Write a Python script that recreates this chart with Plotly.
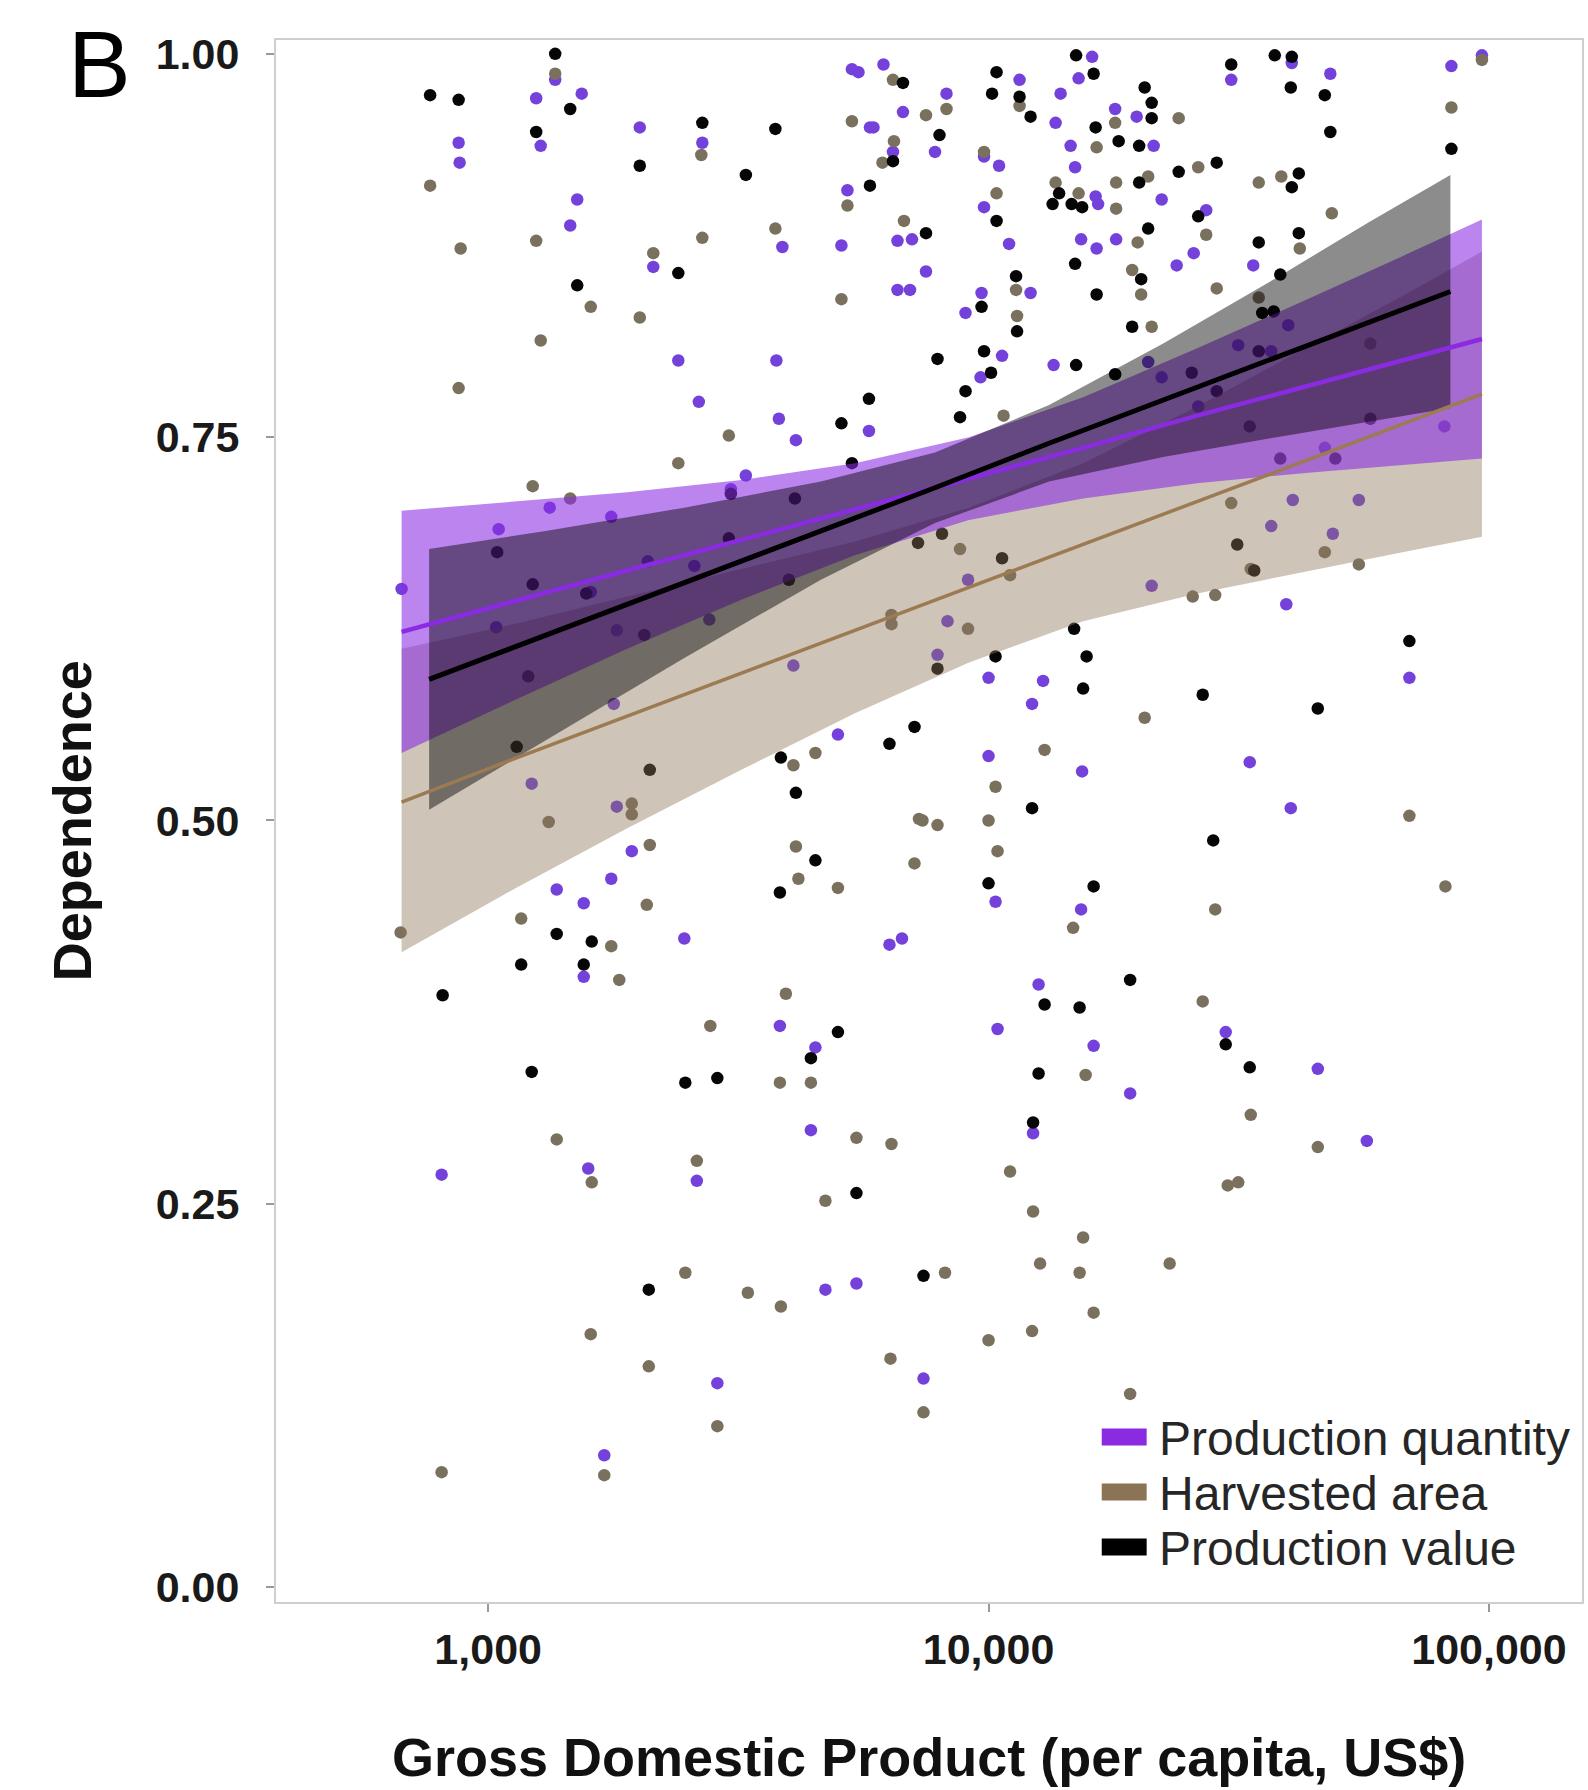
import numpy as np
import plotly.graph_objects as go

# ---------------- data ----------------
# x values are read on the log axis as log10(GDP per capita, US$)
pq_log_gdp = [2.827, 2.907, 2.941, 2.943, 3.021, 3.016, 3.087, 3.096, 3.105, 3.134, 3.123, 3.137, 3.164, 3.178, 3.187,
              3.191, 3.191, 3.200, 3.205, 3.232, 3.246, 3.257, 3.287, 3.303, 3.330, 3.380, 3.392, 3.417, 3.421, 3.428,
              3.458, 3.485, 3.515, 3.576, 3.581, 3.583, 3.588, 3.610, 3.615, 3.645, 3.654, 3.674, 3.699, 3.706, 3.718,
              3.727, 3.736, 3.761, 3.763, 3.790, 3.802, 3.827, 3.809, 3.818, 3.847, 3.818, 3.843, 3.829, 3.870, 3.875,
              3.893, 3.770, 3.740, 3.916, 3.954, 3.986, 3.991, 4.021, 3.991, 4.041, 4.062, 4.084, 4.134, 4.144, 4.164,
              4.173, 4.180, 4.207, 4.185, 4.216, 4.255, 4.214, 4.219, 4.253, 4.296, 4.330, 4.346, 4.376, 4.410, 4.435,
              4.485, 4.529, 4.606, 4.683, 4.925, 4.986, 4.027, 4.130, 3.984, 4.419, 4.499, 4.599, 4.319, 4.346, 4.565,
              4.672, 4.740, 4.688, 4.608, 4.565, 4.911, 3.959, 3.918, 3.898, 4.326, 4.595, 4.000, 4.109, 4.087, 4.841,
              4.000, 4.187, 4.522, 4.604, 4.014, 4.185, 4.100, 4.018, 4.210, 4.474, 4.658, 4.283, 4.089, 4.756, 3.251,
              3.257, 3.319, 3.246, 3.442, 3.412]
pq_dependence = [0.651, 0.269, 0.942, 0.929, 0.690, 0.626, 0.524, 0.971, 0.940, 0.983, 0.704, 0.455, 0.888, 0.905, 0.974,
                 0.446, 0.398, 0.273, 0.649, 0.086, 0.462, 0.509, 0.480, 0.952, 0.861, 0.800, 0.423, 0.265, 0.773, 0.942,
                 0.133, 0.716, 0.725, 0.800, 0.762, 0.366, 0.874, 0.601, 0.748, 0.298, 0.352, 0.194, 0.556, 0.875, 0.911,
                 0.990, 0.198, 0.754, 0.952, 0.993, 0.419, 0.423, 0.936, 0.878, 0.879, 0.846, 0.846, 0.962, 0.136, 0.858,
                 0.936, 0.952, 0.988, 0.974, 0.831, 0.844, 0.933, 0.927, 0.900, 0.876, 0.983, 0.844, 0.955, 0.974, 0.940,
                 0.926, 0.984, 0.998, 0.879, 0.873, 0.879, 0.907, 0.902, 0.964, 0.959, 0.940, 0.905, 0.862, 0.870, 0.898,
                 0.983, 0.862, 0.994, 0.987, 0.992, 0.999, 0.803, 0.797, 0.789, 0.770, 0.810, 0.823, 0.799, 0.789, 0.806,
                 0.743, 0.709, 0.687, 0.709, 0.692, 0.757, 0.657, 0.630, 0.608, 0.653, 0.641, 0.593, 0.591, 0.576, 0.593,
                 0.542, 0.532, 0.538, 0.508, 0.447, 0.442, 0.393, 0.364, 0.353, 0.362, 0.338, 0.322, 0.296, 0.291, 0.576,
                 0.624, 0.669, 0.698, 0.631, 0.666]

ha_log_gdp = [2.825, 2.884, 2.907, 2.945, 2.941, 3.089, 3.096, 3.105, 3.134, 3.164, 3.121, 3.137, 3.066, 3.205, 3.207,
              3.205, 3.232, 3.246, 3.262, 3.287, 3.287, 3.303, 3.317, 3.321, 3.323, 3.330, 3.380, 3.394, 3.417, 3.426,
              3.428, 3.444, 3.458, 3.481, 3.519, 3.574, 3.585, 3.583, 3.595, 3.610, 3.615, 3.620, 3.645, 3.654, 3.674,
              3.699, 3.706, 3.718, 3.727, 3.736, 3.788, 3.806, 3.804, 3.809, 3.811, 3.831, 3.852, 3.861, 3.870, 3.875,
              3.916, 3.991, 4.016, 4.030, 4.055, 4.057, 4.062, 4.134, 4.180, 4.216, 4.253, 4.255, 4.255, 4.298, 4.305,
              4.287, 4.319, 4.326, 4.380, 4.419, 4.435, 4.456, 4.540, 4.540, 4.585, 4.622, 4.686, 4.925, 4.763, 3.943,
              3.959, 3.806, 3.806, 4.043, 4.408, 4.453, 4.524, 4.740, 4.672, 4.312, 4.112, 4.014, 4.841, 3.898, 3.868,
              4.000, 4.018, 4.453, 4.169, 4.913, 4.428, 4.194, 4.043, 4.524, 4.658, 4.478, 4.499, 4.089, 4.189, 4.103,
              4.182, 4.362, 3.913, 4.210, 4.000, 4.087, 4.283, 4.485, 4.986]
ha_dependence = [0.427, 0.914, 0.075, 0.873, 0.782, 0.718, 0.878, 0.813, 0.987, 0.710, 0.499, 0.292, 0.436, 0.835, 0.264,
                 0.165, 0.073, 0.418, 0.396, 0.511, 0.504, 0.828, 0.445, 0.144, 0.484, 0.870, 0.733, 0.205, 0.278, 0.934,
                 0.880, 0.366, 0.105, 0.751, 0.192, 0.886, 0.183, 0.329, 0.387, 0.536, 0.483, 0.462, 0.329, 0.544, 0.252,
                 0.456, 0.840, 0.901, 0.956, 0.293, 0.929, 0.289, 0.149, 0.983, 0.943, 0.891, 0.472, 0.501, 0.114, 0.960,
                 0.964, 0.936, 0.909, 0.764, 0.846, 0.829, 0.966, 0.916, 0.909, 0.939, 0.955, 0.916, 0.899, 0.877, 0.843,
                 0.859, 0.920, 0.822, 0.958, 0.926, 0.882, 0.847, 0.916, 0.841, 0.920, 0.873, 0.896, 0.965, 0.811, 0.677,
                 0.625, 0.634, 0.628, 0.660, 0.646, 0.647, 0.664, 0.667, 0.675, 0.567, 0.546, 0.522, 0.503, 0.497, 0.500,
                 0.500, 0.480, 0.442, 0.430, 0.457, 0.382, 0.334, 0.271, 0.308, 0.287, 0.262, 0.264, 0.245, 0.228, 0.211,
                 0.205, 0.211, 0.205, 0.179, 0.161, 0.167, 0.126, 0.707, 0.996]

pv_log_gdp = [2.884, 2.909, 2.941, 3.018, 3.087, 3.096, 3.089, 3.134, 3.137, 3.164, 3.178, 3.066, 3.191, 3.207, 3.303,
              3.321, 3.380, 3.394, 3.458, 3.428, 3.515, 3.574, 3.613, 3.585, 3.615, 3.645, 3.699, 3.706, 3.727, 3.736,
              3.761, 3.763, 3.802, 3.829, 3.809, 3.852, 3.870, 3.875, 3.898, 3.902, 3.943, 3.954, 3.991, 4.005, 4.007,
              4.016, 4.016, 4.055, 4.057, 4.062, 4.084, 3.986, 4.141, 4.128, 4.166, 4.187, 4.173, 4.175, 4.210, 4.175,
              4.214, 4.216, 4.253, 4.260, 4.301, 4.301, 4.305, 4.312, 4.319, 4.326, 4.326, 4.287, 4.380, 4.419, 4.456,
              4.540, 4.547, 4.570, 4.572, 4.583, 4.604, 4.606, 4.620, 4.620, 4.672, 4.683, 4.485, 4.606, 4.925, 3.898,
              4.014, 4.171, 4.196, 4.189, 4.428, 4.658, 4.841, 4.087, 4.449, 4.000, 4.210, 4.283, 4.112, 4.182, 4.474,
              4.100, 4.522, 4.089, 3.654, 3.583, 3.323, 3.080, 3.057, 3.485, 3.601, 3.859, 3.907, 4.406, 4.456, 4.540,
              4.497, 4.531, 4.027, 3.196, 3.312, 3.481, 4.763, 4.693, 4.583, 4.522]
pv_dependence = [0.973, 0.386, 0.970, 0.675, 0.336, 0.949, 0.654, 1.000, 0.426, 0.964, 0.849, 0.406, 0.406, 0.421, 0.927,
                 0.194, 0.857, 0.329, 0.332, 0.955, 0.921, 0.951, 0.710, 0.541, 0.518, 0.345, 0.362, 0.759, 0.733, 0.257,
                 0.775, 0.914, 0.550, 0.981, 0.930, 0.561, 0.203, 0.883, 0.801, 0.947, 0.763, 0.780, 0.806, 0.792, 0.974,
                 0.988, 0.891, 0.855, 0.819, 0.972, 0.959, 0.835, 0.909, 0.902, 0.902, 0.900, 0.863, 0.999, 0.987, 0.797,
                 0.952, 0.843, 0.791, 0.943, 0.940, 0.916, 0.853, 0.978, 0.886, 0.968, 0.958, 0.822, 0.923, 0.894, 0.929,
                 0.877, 0.831, 0.832, 0.999, 0.856, 0.978, 0.913, 0.922, 0.883, 0.973, 0.949, 0.993, 0.998, 0.938, 0.599,
                 0.607, 0.625, 0.607, 0.586, 0.582, 0.573, 0.617, 0.508, 0.487, 0.459, 0.457, 0.396, 0.380, 0.378, 0.354,
                 0.335, 0.339, 0.303, 0.474, 0.453, 0.533, 0.594, 0.548, 0.713, 0.657, 0.681, 0.687, 0.792, 0.780, 0.806,
                 0.680, 0.663, 0.671, 0.648, 0.621, 0.684, 0.762, 0.736, 0.736, 0.757]

# fitted lines with confidence bands
pq_fit_log_gdp = [2.827, 3.050, 3.278, 3.506, 3.733, 3.961, 4.189, 4.417, 4.645, 4.827, 4.986]
pq_fit = [0.623, 0.643, 0.663, 0.683, 0.703, 0.723, 0.743, 0.764, 0.784, 0.800, 0.814]
pq_upper = [0.702, 0.708, 0.714, 0.722, 0.733, 0.750, 0.776, 0.808, 0.841, 0.868, 0.892]
pq_lower = [0.544, 0.578, 0.612, 0.644, 0.673, 0.696, 0.710, 0.720, 0.727, 0.732, 0.736]

ha_fit_log_gdp = [2.827, 3.050, 3.278, 3.506, 3.733, 3.961, 4.189, 4.417, 4.645, 4.827, 4.986]
ha_fit = [0.512, 0.540, 0.568, 0.596, 0.624, 0.652, 0.680, 0.708, 0.736, 0.758, 0.778]
ha_upper = [0.612, 0.628, 0.646, 0.664, 0.682, 0.704, 0.733, 0.770, 0.810, 0.842, 0.871]
ha_lower = [0.414, 0.455, 0.495, 0.533, 0.570, 0.603, 0.630, 0.648, 0.663, 0.675, 0.685]

pv_fit_log_gdp = [2.882, 3.118, 3.392, 3.665, 3.893, 4.121, 4.349, 4.576, 4.759, 4.923]
pv_fit = [0.592, 0.621, 0.655, 0.689, 0.717, 0.746, 0.774, 0.802, 0.825, 0.845]
pv_upper = [0.677, 0.689, 0.704, 0.721, 0.740, 0.771, 0.811, 0.854, 0.890, 0.921]
pv_lower = [0.507, 0.553, 0.606, 0.657, 0.694, 0.721, 0.737, 0.750, 0.760, 0.769]

series_names = ["Production quantity", "Harvested area", "Production value"]
x_tick_values = [1000, 10000, 100000]
x_tick_labels = ["1,000", "10,000", "100,000"]
y_tick_values = [0.0, 0.25, 0.5, 0.75, 1.0]
y_tick_labels = ["0.00", "0.25", "0.50", "0.75", "1.00"]

# ---------------- styling ----------------
FONT = "Liberation Sans, Arial, Helvetica, sans-serif"
line_colors = {"pq": "#8A2BE2", "ha": "#9C7B52", "pv": "#000000"}
point_colors = {"pq": "#7442DB", "ha": "#7A705E", "pv": "#060606"}
legend_colors = ["#8A2BE2", "#8B7355", "#000000"]
band_fill = {"ha": "rgba(139,115,85,0.42)", "pq": "rgba(138,43,226,0.58)", "pv": "rgba(0,0,0,0.45)"}


def gdp(vals):
    return 10 ** np.asarray(vals, dtype=float)


fig = go.Figure()

# points
for key, xs, ys in [("pq", pq_log_gdp, pq_dependence), ("ha", ha_log_gdp, ha_dependence),
                    ("pv", pv_log_gdp, pv_dependence)]:
    fig.add_trace(go.Scatter(x=gdp(xs), y=ys, mode="markers",
                             marker=dict(size=12.5, color=point_colors[key], line=dict(width=0)),
                             showlegend=False, hoverinfo="skip"))

# confidence bands
for key, xs, lo, up in [("ha", ha_fit_log_gdp, ha_lower, ha_upper),
                        ("pq", pq_fit_log_gdp, pq_lower, pq_upper),
                        ("pv", pv_fit_log_gdp, pv_lower, pv_upper)]:
    xx = list(gdp(xs)) + list(gdp(xs))[::-1]
    yy = list(up) + list(lo)[::-1]
    fig.add_trace(go.Scatter(x=xx, y=yy, mode="lines", fill="toself", fillcolor=band_fill[key],
                             line=dict(width=0), showlegend=False, hoverinfo="skip"))

# fitted lines
for key, xs, ys, w in [("ha", ha_fit_log_gdp, ha_fit, 3.5), ("pq", pq_fit_log_gdp, pq_fit, 4.5),
                       ("pv", pv_fit_log_gdp, pv_fit, 5)]:
    fig.add_trace(go.Scatter(x=gdp(xs), y=ys, mode="lines", line=dict(color=line_colors[key], width=w),
                             showlegend=False, hoverinfo="skip"))

# plot-area geometry (pixels)
W, H = 1588, 1790
L_M, R_M, T_M, B_M = 276, 4, 40, 188
PW = W - L_M - R_M
PH = H - T_M - B_M


def px_x(px):
    return (px - L_M) / PW


def px_y(py):
    return (H - B_M - py) / PH


annotations = [
    dict(text="B", x=px_x(99), y=px_y(65), xref="paper", yref="paper", showarrow=False,
         font=dict(family=FONT, size=94, color="#000000"), xanchor="center", yanchor="middle"),
    dict(text="Dependence", x=px_x(72), y=0.5, xref="paper", yref="paper", showarrow=False, textangle=-90,
         font=dict(family=FONT, size=54, color="#111111", weight=700), xanchor="center", yanchor="middle"),
    dict(text="Gross Domestic Product (per capita, US$)", x=0.5, y=px_y(1757), xref="paper", yref="paper",
         showarrow=False, font=dict(family=FONT, size=54, color="#111111", weight=700),
         xanchor="center", yanchor="middle"),
]
shapes = []
legend_rows = [1437, 1492, 1547]
for name, col, ry in zip(series_names, legend_colors, legend_rows):
    shapes.append(dict(type="rect", xref="paper", yref="paper", x0=px_x(1103), x1=px_x(1148),
                       y0=px_y(ry + 8.5), y1=px_y(ry - 8.5), fillcolor=col, line=dict(width=0)))
    annotations.append(dict(text=name, x=px_x(1158), y=px_y(ry + 1), xref="paper", yref="paper", showarrow=False,
                            font=dict(family=FONT, size=48, color="#262626"), xanchor="left", yanchor="middle"))

axis_common = dict(showgrid=False, zeroline=False, showline=True, linecolor="#CFCFCF", linewidth=2, mirror=True,
                   ticks="outside", ticklen=8, tickwidth=2, tickcolor="#9A9A9A",
                   tickfont=dict(family=FONT, size=43, color="#1A1A1A", weight=700))

fig.update_layout(
    width=W, height=H,
    margin=dict(l=L_M, r=R_M, t=T_M, b=B_M),
    paper_bgcolor="white", plot_bgcolor="white",
    xaxis=dict(type="log", range=[2.576, 5.186], tickvals=x_tick_values, ticktext=x_tick_labels,
               ticklabelstandoff=0, **axis_common),
    yaxis=dict(range=[-0.0097, 1.009], tickvals=y_tick_values, ticktext=y_tick_labels,
               ticklabelstandoff=18, **axis_common),
    annotations=annotations, shapes=shapes, showlegend=False,
)

fig.write_html("out.html")
